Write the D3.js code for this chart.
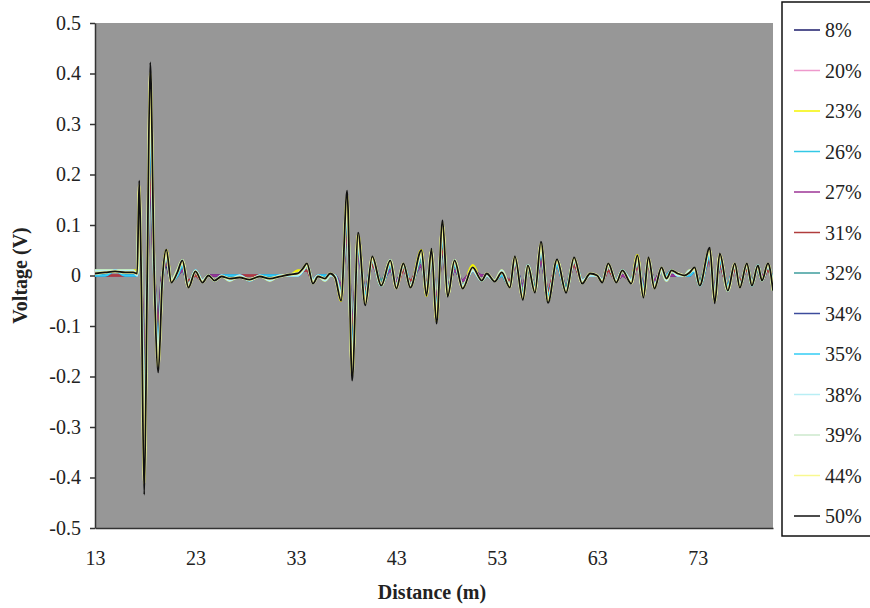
<!DOCTYPE html>
<html>
<head>
<meta charset="utf-8">
<script src="https://cdn.jsdelivr.net/npm/d3@7"></script>
<style>
  body { margin: 0; background: #fff; }
  text { font-family: "Liberation Serif", "Times New Roman", serif; fill: #222; }
  .axis path, .axis line { stroke: #333; stroke-width: 1.5; }
  .axis text { font-size: 20px; fill: #222; }
  .axistitle { font-size: 20px; font-weight: bold; }
  .legend text { font-size: 20px; }
</style>
</head>
<body>
<script>

// ---------------------------//
//            DATA            //
// ---------------------------//

const series = ["8%", "20%", "23%", "26%", "27%", "31%", "32%", "34%", "35%", "38%", "39%", "44%", "50%"];
const colors = ["#1c1c6b", "#ee99cc", "#f5f500", "#33c8e6", "#9c3596", "#b03c3c", "#3c9c9c",
                "#3c4c9c", "#33ccf5", "#b8eef4", "#cce8cc", "#f8f890", "#111111"];

const yTicks = [0.5, 0.4, 0.3, 0.2, 0.1, 0, -0.1, -0.2, -0.3, -0.4, -0.5];
const xTicks = [13, 23, 33, 43, 53, 63, 73];

// distance (m) of each reading
const distance = [
  13.0, 14.0, 15.0, 16.0, 16.8, 17.2, 17.4, 17.6, 17.9, 18.2, 18.5, 18.9, 19.3, 19.7, 20.1, 20.6, 21.2, 21.7, 22.3, 23.0,
  23.7, 24.3, 24.9, 25.6, 26.4, 27.4, 28.4, 29.4, 30.4, 31.4, 32.4, 33.2, 33.7, 34.1, 34.7, 35.2, 35.9, 36.4, 36.9, 37.5,
  38.1, 38.6, 39.2, 39.9, 40.6, 41.5, 42.4, 43.0, 43.7, 44.4, 45.5, 46.0, 46.5, 47.0, 47.6, 48.1, 48.8, 49.6, 50.6, 51.5,
  52.0, 52.8, 53.5, 54.3, 54.8, 55.6, 56.1, 56.8, 57.4, 58.1, 59.0, 59.9, 60.7, 61.5, 62.3, 63.0, 63.5, 64.1, 64.9, 65.5,
  66.4, 67.0, 67.6, 68.1, 68.7, 69.4, 69.9, 70.4, 71.0, 71.7, 72.2, 72.7, 73.2, 74.2, 74.7, 75.2, 76.0, 76.7, 77.2, 77.9,
  78.4, 79.0, 79.4, 80.0, 80.5
];

// voltage (V) per moisture level
const v08 = [
  0, 0, 0, 0, 0, 0, .09, 0, -.2, 0, .2, 0, -.09, 0, .02, -.01, 0, .01, -.01, 0,
  -.01, 0, 0, 0, 0, 0, 0, 0, 0, 0, 0, 0, .01, .01, -.01, 0, 0, 0, 0, -.02,
  .08, -.1, .04, -.03, .02, -.01, .01, -.01, .01, -.01, .02, -.02, .03, -.05, .05, -.02, .01, -.01, .01, 0,
  0, -.01, 0, -.01, .02, -.02, .01, -.02, .03, -.03, .02, -.02, .02, -.01, 0, 0, -.01, .01, -.01, 0,
  -.01, .02, -.02, .02, -.01, .01, 0, 0, 0, 0, 0, .01, -.01, .03, -.03, .02, -.02, .01, -.01, .01,
  -.01, .01, 0, .01, -.01
];
const v20 = [
  0, 0, 0, 0, 0, 0, .11, 0, -.26, 0, .25, 0, -.12, -.01, .03, -.01, 0, .02, -.01, 0,
  -.01, 0, -.01, 0, 0, 0, 0, 0, 0, 0, 0, 0, .01, .01, -.01, 0, 0, 0, 0, -.03,
  .1, -.12, .05, -.04, .02, -.01, .02, -.02, .01, -.01, .03, -.02, .03, -.06, .07, -.03, .02, -.02, .01, -.01,
  0, -.01, 0, -.01, .02, -.03, .01, -.02, .04, -.03, .02, -.02, .02, -.01, 0, 0, -.01, .01, -.01, .01,
  -.01, .02, -.03, .02, -.02, .01, 0, .01, 0, 0, 0, .01, -.01, .03, -.03, .03, -.02, .01, -.01, .01,
  -.01, .01, -.01, .01, -.02
];
const v23 = [
  .01, .01, .01, .01, .01, .01, .17, 0, -.39, 0, .38, 0, -.17, -.01, .05, -.01, .01, .03, -.02, .01,
  -.01, 0, -.01, 0, -.01, 0, -.01, 0, -.01, 0, 0, .01, .01, .02, -.01, 0, -.01, 0, 0, -.05,
  .15, -.19, .08, -.05, .03, -.02, .03, -.02, .02, -.02, .05, -.04, .05, -.09, .1, -.04, .03, -.02, .02, -.01,
  0, -.01, .01, -.02, .03, -.04, .02, -.03, .06, -.05, .03, -.03, .03, -.01, 0, 0, -.01, .02, -.01, .01,
  -.01, .04, -.04, .03, -.02, .01, -.01, .01, 0, 0, .01, .01, -.02, .05, -.05, .04, -.03, .02, -.02, .02,
  -.02, .02, -.01, .02, -.03
];
const v26 = [
  0, 0, 0, 0, 0, 0, .12, 0, -.27, 0, .26, 0, -.12, -.01, .03, -.01, 0, .02, -.01, 0,
  -.01, 0, -.01, 0, 0, 0, 0, 0, 0, 0, 0, 0, .01, .01, -.01, 0, 0, 0, 0, -.03,
  .11, -.13, .05, -.04, .02, -.01, .02, -.02, .02, -.01, .03, -.02, .03, -.06, .07, -.03, .02, -.02, .01, -.01,
  0, -.01, 0, -.01, .02, -.03, .01, -.02, .04, -.04, .02, -.02, .02, -.01, 0, 0, -.01, .01, -.01, .01,
  -.01, .03, -.03, .02, -.02, .01, 0, .01, 0, 0, 0, .01, -.01, .03, -.03, .03, -.02, .01, -.01, .01,
  -.01, .01, -.01, .01, -.02
];
const v27 = [
  0, 0, 0, 0, 0, 0, .1, 0, -.22, 0, .21, 0, -.1, 0, .03, -.01, 0, .01, -.01, 0,
  -.01, 0, 0, 0, 0, 0, 0, 0, 0, 0, 0, 0, .01, .01, -.01, 0, 0, 0, 0, -.02,
  .09, -.11, .04, -.03, .02, -.01, .01, -.01, .01, -.01, .02, -.02, .03, -.05, .06, -.02, .01, -.01, .01, 0,
  0, -.01, 0, -.01, .02, -.02, .01, -.02, .03, -.03, .02, -.02, .02, -.01, 0, 0, -.01, .01, -.01, 0,
  -.01, .02, -.02, .02, -.01, .01, 0, 0, 0, 0, 0, .01, -.01, .03, -.03, .02, -.02, .01, -.01, .01,
  -.01, .01, 0, .01, -.01
];
const v31 = [
  0, 0, 0, 0, 0, 0, .11, 0, -.25, 0, .24, 0, -.11, -.01, .03, -.01, 0, .02, -.01, 0,
  -.01, 0, -.01, 0, 0, 0, 0, 0, 0, 0, 0, 0, .01, .01, -.01, 0, 0, 0, 0, -.03,
  .1, -.12, .05, -.03, .02, -.01, .02, -.02, .01, -.01, .03, -.02, .03, -.06, .06, -.03, .02, -.02, .01, -.01,
  0, -.01, 0, -.01, .02, -.03, .01, -.02, .04, -.03, .02, -.02, .02, -.01, 0, 0, -.01, .01, -.01, .01,
  -.01, .02, -.03, .02, -.02, .01, 0, .01, 0, 0, 0, .01, -.01, .03, -.03, .02, -.02, .01, -.01, .01,
  -.01, .01, -.01, .01, -.02
];
const v32 = [
  0, 0, .01, 0, 0, 0, .13, 0, -.3, 0, .29, 0, -.13, -.01, .04, -.01, 0, .02, -.02, .01,
  -.01, 0, -.01, 0, 0, 0, -.01, 0, 0, 0, 0, 0, .01, .02, -.01, 0, 0, 0, 0, -.03,
  .12, -.14, .06, -.04, .03, -.01, .02, -.02, .02, -.02, .03, -.03, .04, -.07, .08, -.03, .02, -.02, .01, -.01,
  0, -.01, 0, -.02, .03, -.03, .01, -.02, .05, -.04, .02, -.02, .03, -.01, 0, 0, -.01, .02, -.01, .01,
  -.01, .03, -.03, .03, -.02, .01, 0, .01, 0, 0, 0, .01, -.01, .04, -.04, .03, -.02, .02, -.02, .02,
  -.01, .01, -.01, .02, -.02
];
const v34 = [
  0, 0, .01, 0, 0, 0, .14, 0, -.32, 0, .31, 0, -.14, -.01, .04, -.01, 0, .02, -.02, .01,
  -.01, 0, -.01, 0, 0, 0, -.01, 0, 0, 0, 0, 0, .01, .02, -.01, 0, 0, 0, 0, -.04,
  .12, -.15, .06, -.04, .03, -.02, .02, -.02, .02, -.02, .04, -.03, .04, -.07, .08, -.03, .02, -.02, .01, -.01,
  0, -.01, 0, -.02, .03, -.04, .02, -.03, .05, -.04, .02, -.03, .03, -.01, 0, 0, -.01, .02, -.01, .01,
  -.01, .03, -.03, .03, -.02, .01, 0, .01, 0, 0, 0, .01, -.02, .04, -.04, .03, -.02, .02, -.02, .02,
  -.02, .02, -.01, .02, -.02
];
const v35 = [
  0, 0, .01, 0, 0, 0, .14, 0, -.33, 0, .32, 0, -.14, -.01, .04, -.01, 0, .02, -.02, .01,
  -.01, 0, -.01, 0, 0, 0, -.01, 0, 0, 0, 0, 0, .01, .02, -.01, 0, 0, 0, 0, -.04,
  .13, -.16, .06, -.04, .03, -.02, .02, -.02, .02, -.02, .04, -.03, .04, -.07, .08, -.03, .02, -.02, .01, -.01,
  0, -.01, 0, -.02, .03, -.04, .02, -.03, .05, -.04, .02, -.03, .03, -.01, 0, 0, -.01, .02, -.01, .01,
  -.01, .03, -.03, .03, -.02, .01, 0, .01, 0, 0, 0, .01, -.02, .04, -.04, .03, -.02, .02, -.02, .02,
  -.02, .02, -.01, .02, -.02
];
const v38 = [
  .01, .01, .01, .01, .01, 0, .16, 0, -.37, 0, .36, 0, -.16, -.01, .04, -.01, .01, .03, -.02, .01,
  -.01, 0, -.01, 0, -.01, 0, -.01, 0, -.01, 0, 0, 0, .01, .02, -.01, 0, -.01, 0, 0, -.04,
  .14, -.18, .07, -.05, .03, -.02, .03, -.02, .02, -.02, .04, -.03, .05, -.08, .09, -.04, .03, -.02, .01, -.01,
  0, -.01, .01, -.02, .03, -.04, .02, -.03, .06, -.05, .03, -.03, .03, -.01, 0, 0, -.01, .02, -.01, .01,
  -.01, .03, -.04, .03, -.02, .01, -.01, .01, 0, 0, .01, .01, -.02, .05, -.05, .04, -.03, .02, -.02, .02,
  -.02, .02, -.01, .02, -.03
];
const v39 = [
  .004, .006, .008, .006, .006, .004, .17, 0, -.4, 0, .39, 0, -.176, -.01, .047, -.013, .006, .027, -.022, .008,
  -.013, 0, -.01, -.002, -.006, -.004, -.008, -.002, -.006, -.002, .002, .004, .013, .022, -.015, -.002, -.006, .004, -.004, -.046,
  .155, -.192, .078, -.054, .035, -.018, .027, -.024, .022, -.022, .046, -.037, .049, -.087, .1, -.039, .027, -.024, .015, -.009,
  .004, -.011, .006, -.022, .035, -.044, .018, -.031, .062, -.05, .029, -.031, .033, -.015, .004, 0, -.013, .022, -.013, .009,
  -.015, .037, -.04, .033, -.024, .015, -.006, .009, .004, 0, .006, .015, -.018, .05, -.05, .04, -.027, .022, -.022, .022,
  -.018, .018, -.009, .022, -.027
];
const v44 = [
  .004, .006, .008, .006, .006, .004, .178, 0, -.412, 0, .401, 0, -.182, -.01, .048, -.013, .006, .028, -.023, .008,
  -.013, 0, -.01, -.002, -.006, -.004, -.008, -.002, -.006, -.002, .002, .004, .013, .023, -.015, -.002, -.006, .004, -.004, -.048,
  .16, -.198, .081, -.056, .036, -.019, .028, -.025, .023, -.023, .047, -.038, .05, -.09, .104, -.04, .028, -.025, .015, -.01,
  .004, -.011, .006, -.023, .036, -.046, .019, -.032, .064, -.051, .03, -.032, .034, -.015, .004, 0, -.013, .023, -.013, .01,
  -.015, .038, -.042, .034, -.025, .015, -.006, .01, .004, 0, .006, .015, -.019, .052, -.052, .042, -.028, .023, -.023, .023,
  -.019, .019, -.01, .023, -.028
];
const v50 = [
  .004, .006, .008, .006, .006, .004, .188, 0, -.434, 0, .422, 0, -.192, -.01, .051, -.014, .006, .03, -.024, .008,
  -.014, 0, -.01, -.002, -.006, -.004, -.008, -.002, -.006, -.002, .002, .004, .014, .024, -.016, -.002, -.006, .004, -.004, -.05,
  .168, -.208, .085, -.059, .038, -.02, .03, -.026, .024, -.024, .05, -.04, .053, -.095, .109, -.042, .03, -.026, .016, -.01,
  .004, -.012, .006, -.024, .038, -.048, .02, -.034, .067, -.054, .032, -.034, .036, -.016, .004, 0, -.014, .024, -.014, .01,
  -.016, .04, -.044, .036, -.026, .016, -.006, .01, .004, 0, .006, .016, -.02, .055, -.055, .044, -.03, .024, -.024, .024,
  -.02, .02, -.01, .024, -.03
];

const voltages = [v08, v20, v23, v26, v27, v31, v32, v34, v35, v38, v39, v44, v50];

// ---------------------------//
//          LAYOUT            //
// ---------------------------//

const margin = {top: 23, right: 97, bottom: 80, left: 95};
const w = 870 - margin.left - margin.right;
const h = 608 - margin.top - margin.bottom;

let svg = d3.select("body")
            .append("svg")
                .attr("width", 870)
                .attr("height", 608)
            .append("g")
                .attr("transform", "translate(" + margin.left + "," + margin.top + ")");

// plot area
svg.append("rect")
    .attr("width", w)
    .attr("height", h)
    .attr("fill", "#979797");

svg.append("clipPath")
    .attr("id", "clip")
    .append("rect")
        .attr("width", w)
        .attr("height", h);

// ---------------------------//
//       AXIS  AND SCALE      //
// ---------------------------//

const x = d3.scaleLinear()
    .domain([13, 80.5])
    .range([0, w]);

const y = d3.scaleLinear()
    .domain([-0.5, 0.5])
    .range([h, 0]);

svg.append("g")
    .attr("class", "x axis")
    .attr("transform", "translate(0," + h + ")")
    .call(d3.axisBottom(x).tickValues(xTicks).tickSize(0).tickPadding(23).tickFormat(d3.format("d")));

svg.append("g")
    .attr("class", "y axis")
    .call(d3.axisLeft(y).tickValues(yTicks).tickSize(5).tickSizeOuter(0).tickPadding(9)
        .tickFormat(d => d === 0 ? "0" : d.toFixed(1)));

// X axis label
svg.append("text")
    .attr("class", "axistitle")
    .attr("text-anchor", "middle")
    .attr("x", 432 - margin.left)
    .attr("y", 599 - margin.top)
    .text("Distance (m)");

// Y axis label
svg.append("text")
    .attr("class", "axistitle")
    .attr("text-anchor", "middle")
    .attr("transform", "translate(" + (27 - margin.left) + "," + (h / 2) + ") rotate(-90)")
    .text("Voltage (V)");

// ---------------------------//
//           LINES            //
// ---------------------------//

const line = d3.line()
    .x((d, i) => x(distance[i]))
    .y(d => y(d))
    .curve(d3.curveMonotoneX);

// lighter, wider traces underneath so they show round the 50% trace, as in the print
svg.append("g")
    .attr("clip-path", "url(#clip)")
    .selectAll("path")
    .data(voltages)
    .enter()
    .append("path")
        .attr("d", line)
        .attr("fill", "none")
        .attr("stroke", (d, i) => colors[i])
        .attr("stroke-width", (d, i) => i === voltages.length - 1 ? 1.8 : 2.6)
        .attr("stroke-linejoin", "round");

// ---------------------------//
//           LEGEND           //
// ---------------------------//

const legend = d3.select("svg")
    .append("g")
    .attr("class", "legend");

legend.append("rect")
    .attr("x", 782)
    .attr("y", 2)
    .attr("width", 100)
    .attr("height", 534)
    .attr("fill", "#fff")
    .attr("stroke", "#111")
    .attr("stroke-width", 1.5);

const item = legend.selectAll(".item")
    .data(series)
    .enter()
    .append("g")
        .attr("class", "item")
        .attr("transform", (d, i) => "translate(0," + (30 + i * 40.5) + ")");

item.append("line")
    .attr("x1", 794)
    .attr("x2", 820)
    .attr("stroke", (d, i) => colors[i])
    .attr("stroke-width", 1.5);

item.append("text")
    .attr("x", 825)
    .attr("dy", "0.35em")
    .text(d => d);

</script>
</body>
</html>
